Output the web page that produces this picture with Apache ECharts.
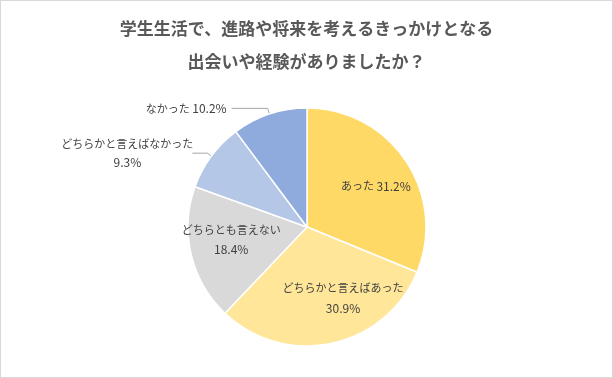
<!DOCTYPE html>
<html>
<head>
<meta charset="utf-8">
<script src="https://cdn.jsdelivr.net/npm/echarts@6/dist/echarts.min.js"></script>
<style>
html, body { margin: 0; padding: 0; background: #fff; }
#chart { width: 613px; height: 378px; box-sizing: border-box; border: 1px solid #d9d9d9; }
</style>
</head>
<body>
<div id="chart"></div>
<script>
let title_text = '学生生活で、進路や将来を考えるきっかけとなる\n出会いや経験がありましたか？';
let names = ['あった', 'どちらかと言えばあった', 'どちらとも言えない', 'どちらかと言えばなかった', 'なかった'];
let values = [31.2, 30.9, 18.4, 9.3, 10.2];
let colors = ['#FFD966', '#FFE699', '#D9D9D9', '#B4C7E7', '#8FAADC'];

function drawPie() {
	let mychart = echarts.init(document.getElementById('chart'));
	let font = '"Noto Sans CJK JP", "Noto Sans", sans-serif';

	// 内側ラベルの位置調整
	let inner_offset = [[17, -6], [23, 10], [-15, -2]];

	let rich = {
		k: { fontSize: 11, color: '#404040', fontFamily: font, lineHeight: 20 },
		n: { fontSize: 12, color: '#404040', fontFamily: font, lineHeight: 20 },
		ck: { width: 120, align: 'center', fontSize: 11, color: '#404040', fontFamily: font, lineHeight: 19 },
		cn: { width: 120, align: 'center', fontSize: 12, color: '#404040', fontFamily: font, lineHeight: 19 }
	};

	let pie_data = [];
	for (let i = 0; i < names.length; i++) {
		let item = {
			name: names[i],
			value: values[i],
			itemStyle: { color: colors[i] }
		};
		if (i < 3) {
			item.label = {
				position: 'inside',
				offset: inner_offset[i],
				formatter: i == 0 ? '{k|{b}} {n|{c}%}' : '{k|{b}}\n{n|{c}%}',
				rich: rich
			};
			item.labelLine = { show: false };
		} else if (i == 3) {
			item.label = {
				position: 'outside',
				formatter: '{ck|{b}}\n{cn|{c}%}',
				rich: rich
			};
			item.labelLine = { length: 5, length2: 15 };
		} else {
			item.label = {
				position: 'outside',
				formatter: '{k|{b}} {n|{c}%}',
				rich: rich
			};
			item.labelLine = { length: 6, length2: 36 };
		}
		pie_data.push(item);
	}

	let option = {
		title: {
			text: title_text,
			left: 'center',
			top: 6,
			textStyle: {
				color: '#595959',
				fontSize: 17,
				fontWeight: 'bold',
				lineHeight: 33,
				fontFamily: font
			}
		},
		series: [{
			type: 'pie',
			center: [306, 226],
			radius: 119,
			startAngle: 90,
			clockwise: true,
			animation: false,
			avoidLabelOverlap: false,
			itemStyle: { borderColor: '#ffffff', borderWidth: 1.5 },
			label: {
				color: '#404040',
				fontSize: 11,
				fontFamily: font
			},
			labelLine: {
				lineStyle: { color: '#a6a6a6', width: 1 }
			},
			emphasis: { disabled: true },
			data: pie_data
		}]
	};

	mychart.setOption(option);
}

drawPie();
</script>
</body>
</html>
